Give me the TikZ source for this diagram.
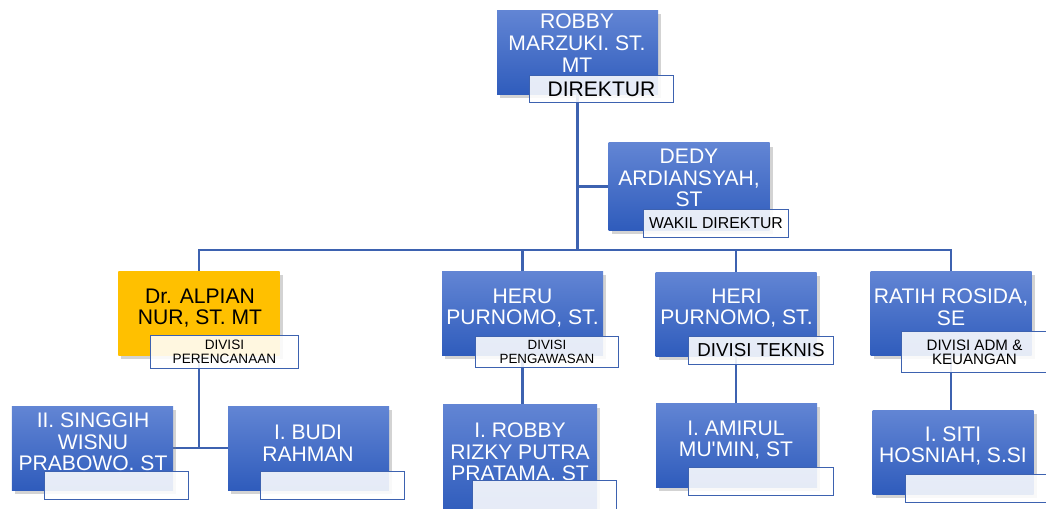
\documentclass[tikz,border=0pt]{standalone}
\usepackage{fontspec}
\setmainfont{Liberation Sans}
\usetikzlibrary{shadows,backgrounds}

\definecolor{boxtop}{RGB}{98,133,212}
\definecolor{boxbot}{RGB}{47,92,188}
\definecolor{linkblue}{RGB}{61,98,176}
\definecolor{gold}{RGB}{255,192,0}

\tikzset{
  pbox/.style={rectangle,inner sep=0pt,minimum width=4.83cm,minimum height=2.52cm,
    top color=boxtop,bottom color=boxbot,
    drop shadow={shadow xshift=0.09cm,shadow yshift=-0.11cm,opacity=0.35}},
  pname/.style={align=center,text=white,inner sep=0pt,font=\fontsize{18}{18.5}\selectfont},
  lbox/.style={rectangle,anchor=north west,draw=linkblue,line width=0.8pt,
    fill=white,fill opacity=0.88,text opacity=1,minimum width=4.32cm,
    minimum height=0.84cm,inner sep=0pt,align=center},
  conn/.style={draw=linkblue,line width=2.2pt},
}

\begin{document}
\begin{tikzpicture}[x=0.03cm,y=-0.03cm]
  \useasboundingbox (0,0) rectangle (1046,509);
  \clip (0,0) rectangle (1046,509);

  % boxes
  \node[pbox] (dir) at (577.5,52.5) {};
  \node[pbox,minimum height=2.61cm] (wak) at (689,186.5) {};
  \node[pbox,top color=gold,bottom color=gold] (alp) at (199,313.5) {};
  \node[pbox] (heru) at (522.5,313.5) {};
  \node[pbox] (heri) at (736,314) {};
  \node[pbox] (rat) at (951,313.5) {};
  \node[pbox] (sing) at (92.5,448) {};
  \node[pbox] (budi) at (308.5,448) {};
  \node[pbox,minimum width=4.62cm,minimum height=3.3cm] (rob) at (520,459) {};
  \node[pbox] (ami) at (736.5,445) {};
  \node[pbox] (siti) at (953,452) {};

  % names
  \node[pname] at (577,43) {ROBBY\\MARZUKI. ST.\\MT};
  \node[pname] at (689,178) {DEDY\\ARDIANSYAH,\\ST};
  \node[pname,text=black] at (200,308) {Dr. ALPIAN\\NUR, ST. MT};
  \node[pname] at (522.5,308) {HERU\\PURNOMO, ST.};
  \node[pname] at (736.5,308) {HERI\\PURNOMO, ST.};
  \node[pname] at (951,307) {RATIH ROSIDA,\\SE};
  \node[pname] at (93,442) {II. SINGGIH\\WISNU\\PRABOWO. ST};
  \node[pname] at (308,443) {I. BUDI\\RAHMAN};
  \node[pname] at (520,452) {I. ROBBY\\RIZKY PUTRA\\PRATAMA. ST};
  \node[pname] at (736,440) {I. AMIRUL\\MU\textquotesingle MIN, ST};
  \node[pname] at (953,446) {I. SITI\\HOSNIAH, S.SI};

  % labels
  \node[lbox,minimum height=0.81cm,font=\fontsize{18}{18}\selectfont] (dirl) at (529,75) {DIREKTUR};
  \node[lbox,minimum width=4.35cm,font=\fontsize{13.5}{13.5}\selectfont] (wakl) at (643,209) {WAKIL DIREKTUR};
  \node[lbox,minimum width=4.44cm,minimum height=0.99cm,font=\fontsize{11.6}{11.4}\selectfont] (alpl) at (150,335) {DIVISI\\PERENCANAAN};
  \node[lbox,minimum width=4.29cm,minimum height=0.93cm,font=\fontsize{11.4}{11.4}\selectfont] (herul) at (475,336) {DIVISI\\PENGAWASAN};
  \node[lbox,minimum width=4.35cm,font=\fontsize{16}{16}\selectfont] (heril) at (688,336) {DIVISI TEKNIS};
  \node[lbox,minimum width=4.38cm,minimum height=1.23cm,font=\fontsize{12.9}{12}\selectfont] (ratl) at (901,331) {DIVISI ADM \&\\KEUANGAN};
  \node[lbox] (singl) at (44,471) {};
  \node[lbox] (budil) at (260,471) {};
  \node[lbox,minimum height=0.87cm] (robl) at (472,480) {};
  \node[lbox,minimum width=4.35cm] (amil) at (688,467) {};
  \node[lbox,minimum width=4.35cm] (sitil) at (905,474) {};

  % connectors
  \begin{pgfonlayer}{background}
    \coordinate (bus) at (577.5,250);
    \draw[conn] (dir.south) -- (bus);
    \draw[conn] (wak.west) -- (wak.west -| dir.south);
    \draw[conn] (alp.north) |- (bus) -| (rat.north);
    \draw[conn] (heru.north) -- (heru.north |- bus);
    \draw[conn] (heri.north) -- (heri.north |- bus);
    \draw[conn] (alp.south) -- (alp.south |- budi.west);
    \draw[conn] (sing.east) -- (budi.west);
    \draw[conn] (heru.south) -- (heru.south |- rob.north);
    \draw[conn] (heri.south) -- (heri.south |- ami.north);
    \draw[conn] (rat.south) -- (rat.south |- siti.north);
  \end{pgfonlayer}
\end{tikzpicture}
\end{document}
